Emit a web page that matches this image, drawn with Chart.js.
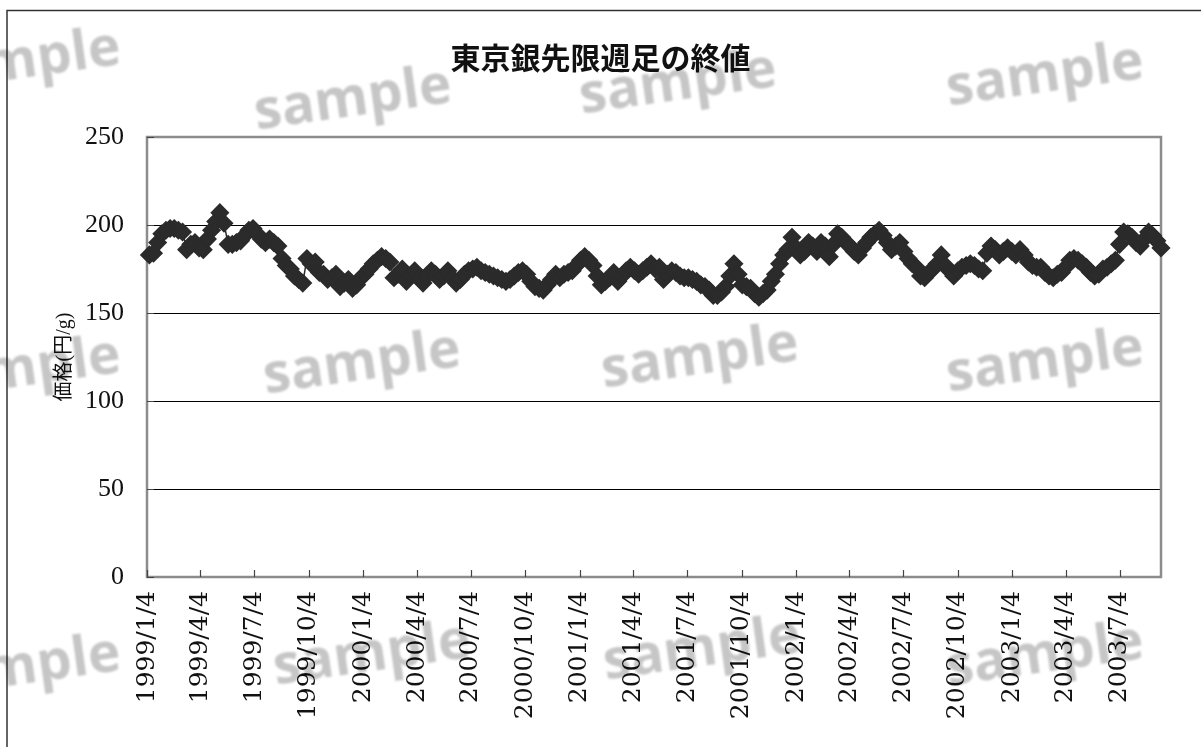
<!DOCTYPE html>
<html lang="ja">
<head>
<meta charset="utf-8">
<title>東京銀先限週足の終値</title>
<script src="https://cdn.jsdelivr.net/npm/chart.js@4/dist/chart.umd.min.js"></script>
<style>
  html, body { margin: 0; padding: 0; background: #fff; }
  #wrap { position: relative; width: 1201px; height: 747px; }
</style>
</head>
<body>
<div id="wrap"><canvas id="c" width="1201" height="747"></canvas></div>
<script>
// Chart text
const chartTitle = '東京銀先限週足の終値';
const yAxisTitle = '価格(円/g)';

// Date of the axis origin and of the first weekly close
const axisStartDate = '1999/1/4';
const firstWeekDate = '1999/1/8';

// Quarterly labels along the date axis
const tickLabels = [
  '1999/1/4', '1999/4/4', '1999/7/4', '1999/10/4',
  '2000/1/4', '2000/4/4', '2000/7/4', '2000/10/4',
  '2001/1/4', '2001/4/4', '2001/7/4', '2001/10/4',
  '2002/1/4', '2002/4/4', '2002/7/4', '2002/10/4',
  '2003/1/4', '2003/4/4', '2003/7/4'
];

// Price axis ticks (円/g)
const yTicks = [0, 50, 100, 150, 200, 250];

// Weekly closing price of the Tokyo silver benchmark contract (円/g)
const weeklyClose = [
  183, 184, 190, 195, 197, 198, 198, 197, 196, 186,
  189, 190, 187, 186, 192, 197, 202, 207, 201, 189,
  189, 190, 191, 194, 197, 198, 195, 192, 190, 192,
  190, 188, 181, 177, 175, 171, 169, 167, 181, 178,
  179, 173, 172, 169, 170, 172, 165, 167, 169, 164,
  166, 170, 172, 175, 178, 180, 182, 181, 179, 170,
  172, 175, 168, 171, 174, 170, 167, 171, 174, 172,
  169, 171, 174, 170, 167, 169, 172, 174, 175, 176,
  174, 173, 172, 171, 170, 169, 168, 169, 171, 173,
  174, 172, 168, 165, 164, 163, 166, 169, 172, 170,
  172, 173, 174, 177, 180, 182, 180, 177, 171, 166,
  168, 170, 173, 168, 171, 174, 176, 174, 172, 174,
  176, 178, 175, 176, 169, 172, 174, 173, 171, 170,
  170, 169, 168, 166, 165, 163, 160, 160, 162, 165,
  171, 178, 172, 166, 165, 164, 161, 159, 161, 163,
  168, 172, 178, 183, 186, 193, 187, 183, 185, 190,
  188, 185, 190, 188, 182, 189, 195, 193, 190, 188,
  185, 183, 187, 190, 193, 195, 197, 194, 190, 186,
  188, 190, 185, 181, 178, 176, 171, 170, 173, 175,
  178, 183, 177, 174, 171, 174, 176, 177, 178, 177,
  175, 174, 184, 188, 186, 183, 185, 187, 185, 183,
  186, 183, 179, 177, 176, 176, 173, 171, 170, 172,
  173, 176, 180, 181, 180, 178, 176, 173, 171, 172,
  175, 176, 178, 180, 189, 196, 195, 193, 190, 188,
  192, 196, 194, 191, 187
];

// Days elapsed since the axis origin for a 'YYYY/M/D' string
function dayOffset(s) {
  const [y, m, d] = s.split('/').map(Number);
  const [y0, m0, d0] = axisStartDate.split('/').map(Number);
  return Math.round((Date.UTC(y, m - 1, d) - Date.UTC(y0, m0 - 1, d0)) / 86400000);
}

const firstDay = dayOffset(firstWeekDate);
const points = weeklyClose.map((v, i) => ({ x: firstDay + 7 * i, y: v }));
const tickDays = tickLabels.map(dayOffset);
const lastDay = points[points.length - 1].x;

const ink = '#2b2b2b';
const frameGray = '#8c8c8c';

// White page, outer frame lines
const pagePlugin = {
  id: 'page',
  beforeDraw(chart) {
    const ctx = chart.ctx;
    ctx.save();
    ctx.fillStyle = '#fff';
    ctx.fillRect(0, 0, chart.width, chart.height);
    ctx.strokeStyle = '#333';
    ctx.lineWidth = 1.5;
    ctx.beginPath();
    ctx.moveTo(7, chart.height);
    ctx.lineTo(7, 10.5);
    ctx.lineTo(chart.width, 10.5);
    ctx.stroke();
    ctx.restore();
  }
};

// Gray plot-area border with inward tick marks
const plotFramePlugin = {
  id: 'plotFrame',
  beforeDatasetsDraw(chart) {
    const { ctx, chartArea: a, scales } = chart;
    ctx.save();
    ctx.strokeStyle = frameGray;
    ctx.lineWidth = 2.5;
    ctx.strokeRect(a.left, a.top, a.right - a.left, a.bottom - a.top);
    ctx.strokeStyle = '#444';
    ctx.lineWidth = 1.2;
    ctx.beginPath();
    scales.x.ticks.forEach(t => {
      const px = Math.round(scales.x.getPixelForValue(t.value)) + 0.5;
      ctx.moveTo(px, a.bottom);
      ctx.lineTo(px, a.bottom - 7);
    });
    scales.y.ticks.forEach(t => {
      const py = Math.round(scales.y.getPixelForValue(t.value)) + 0.5;
      ctx.moveTo(a.left, py);
      ctx.lineTo(a.left + 7, py);
    });
    ctx.stroke();
    ctx.restore();
  }
};

// Light "sample" stamps over the sheet
const watermarkPlugin = {
  id: 'watermark',
  afterDraw(chart) {
    const ctx = chart.ctx;
    const spots = [
      [22, 62], [353, 100], [678, 84], [1045, 76],
      [22, 370], [362, 364], [700, 358], [1045, 362],
      [22, 668], [372, 655], [702, 650], [1045, 656]
    ];
    ctx.save();
    ctx.globalCompositeOperation = 'multiply';
    ctx.filter = 'blur(1.2px)';
    ctx.fillStyle = '#c6c6c6';
    ctx.font = "bold 55px 'Open Sans', 'DejaVu Sans', sans-serif";
    ctx.textAlign = 'center';
    ctx.textBaseline = 'middle';
    spots.forEach(([x, y]) => {
      ctx.save();
      ctx.translate(x, y);
      ctx.rotate(-0.14);
      ctx.fillText('sample', 0, 0);
      ctx.restore();
    });
    ctx.restore();
  }
};

new Chart(document.getElementById('c'), {
  type: 'line',
  data: {
    datasets: [{
      data: points,
      borderColor: ink,
      backgroundColor: ink,
      borderWidth: 1.5,
      pointStyle: 'rectRot',
      pointRadius: 8.5,
      pointBorderWidth: 1.5,
      pointBackgroundColor: ink,
      pointBorderColor: ink,
      tension: 0,
      clip: false
    }]
  },
  plugins: [pagePlugin, plotFramePlugin, watermarkPlugin],
  options: {
    responsive: false,
    animation: false,
    devicePixelRatio: 1,
    layout: { padding: { left: 40, right: 40, top: 20, bottom: 0 } },
    plugins: {
      legend: { display: false },
      tooltip: { enabled: false },
      title: {
        display: true,
        text: chartTitle,
        color: '#111',
        font: { family: "'Noto Sans CJK JP', sans-serif", size: 30, weight: 'bold' },
        padding: { top: 20, bottom: 61 }
      }
    },
    scales: {
      x: {
        type: 'linear',
        min: 0,
        max: lastDay,
        afterBuildTicks: s => { s.ticks = tickDays.map(v => ({ value: v })); },
        afterFit: s => { s.height = 170; },
        ticks: {
          autoSkip: false,
          minRotation: 90,
          maxRotation: 90,
          padding: 14,
          color: '#111',
          font: { family: "'DejaVu Serif', serif", size: 25 },
          callback: (v, i) => tickLabels[i]
        },
        grid: { drawOnChartArea: false, drawTicks: false },
        border: { display: false }
      },
      y: {
        min: 0,
        max: 250,
        afterBuildTicks: s => { s.ticks = yTicks.map(v => ({ value: v })); },
        afterFit: s => { s.width = 107; },
        ticks: {
          padding: 23,
          color: '#111',
          font: { family: "'Liberation Serif', serif", size: 26 }
        },
        grid: {
          color: c => (c.tick && (c.tick.value === 0 || c.tick.value === 250)) ? 'rgba(0,0,0,0)' : '#000',
          lineWidth: 1,
          drawTicks: false
        },
        border: { display: false },
        title: {
          display: true,
          text: yAxisTitle,
          color: '#111',
          font: { family: "'Liberation Serif', 'Noto Sans CJK JP', serif", size: 20 },
          padding: { top: 13, bottom: 0 }
        }
      }
    }
  }
});
</script>
</body>
</html>
